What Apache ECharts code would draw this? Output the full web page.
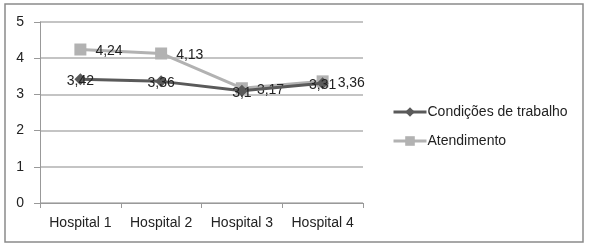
<!DOCTYPE html>
<html><head><meta charset="utf-8">
<script src="https://cdn.jsdelivr.net/npm/echarts@6/dist/echarts.min.js"></script>
<style>html,body{margin:0;padding:0;background:#fff}#c{width:592px;height:250px}</style>
</head><body><div id="c"></div>
<script>
const categories = ['Hospital 1', 'Hospital 2', 'Hospital 3', 'Hospital 4'];
const condicoes = [3.42, 3.36, 3.1, 3.31];
const atendimento = [4.24, 4.13, 3.17, 3.36];
const yTicks = [0, 1, 2, 3, 4, 5];

const FONT = 'Liberation Sans';
const fmt = p => String(p.value).replace('.', ',');
const chart = echarts.init(document.getElementById('c'), null, {renderer: 'canvas'});
chart.setOption({
  animation: false,
  textStyle: {fontFamily: FONT},
  graphic: [{type: 'rect', shape: {x: 5, y: 4, width: 578, height: 238}, style: {fill: 'none', stroke: '#8a8a8a', lineWidth: 1.5}, z: -1}],
  grid: {left: 40, right: 229, top: 22, bottom: 47},
  legend: {
    orient: 'vertical', left: 387, top: 100, itemGap: 15, itemWidth: 33, itemHeight: 12,
    lineStyle: {width: 3},
    textStyle: {fontFamily: FONT, fontSize: 14, color: '#222', padding: [0, 0, 0, -4]},
    data: ['Condições de trabalho', 'Atendimento']
  },
  xAxis: {
    type: 'category', data: categories, boundaryGap: true,
    axisLine: {lineStyle: {color: '#999', width: 1}},
    axisTick: {show: true, length: 5, lineStyle: {color: '#999'}},
    axisLabel: {fontFamily: FONT, fontSize: 14, color: '#222', margin: 13, interval: 0}
  },
  yAxis: {
    type: 'value', min: yTicks[0], max: yTicks[yTicks.length - 1], interval: 1,
    axisLine: {show: true, lineStyle: {color: '#999', width: 1}},
    axisTick: {show: true, length: 6, lineStyle: {color: '#999'}},
    splitLine: {lineStyle: {color: '#b0b0b0', width: 1.5}},
    axisLabel: {fontFamily: FONT, fontSize: 14, color: '#222', margin: 16,
      formatter: v => yTicks.includes(v) ? String(v) : ''}
  },
  series: [
    {
      name: 'Condições de trabalho', type: 'line', data: condicoes,
      symbol: 'diamond', symbolSize: 12,
      lineStyle: {color: '#5a5a5a', width: 3},
      itemStyle: {color: '#5a5a5a'},
      label: {show: true, position: 'inside', offset: [0, 2], formatter: fmt,
        fontFamily: FONT, fontSize: 14, color: '#222'},
      z: 3
    },
    {
      name: 'Atendimento', type: 'line', data: atendimento,
      symbol: 'rect', symbolSize: 12,
      lineStyle: {color: '#b2b2b2', width: 3},
      itemStyle: {color: '#b2b2b2'},
      label: {show: true, position: 'right', distance: 9, offset: [0, 2], formatter: fmt,
        fontFamily: FONT, fontSize: 14, color: '#222'},
      z: 2
    }
  ]
});
</script></body></html>
